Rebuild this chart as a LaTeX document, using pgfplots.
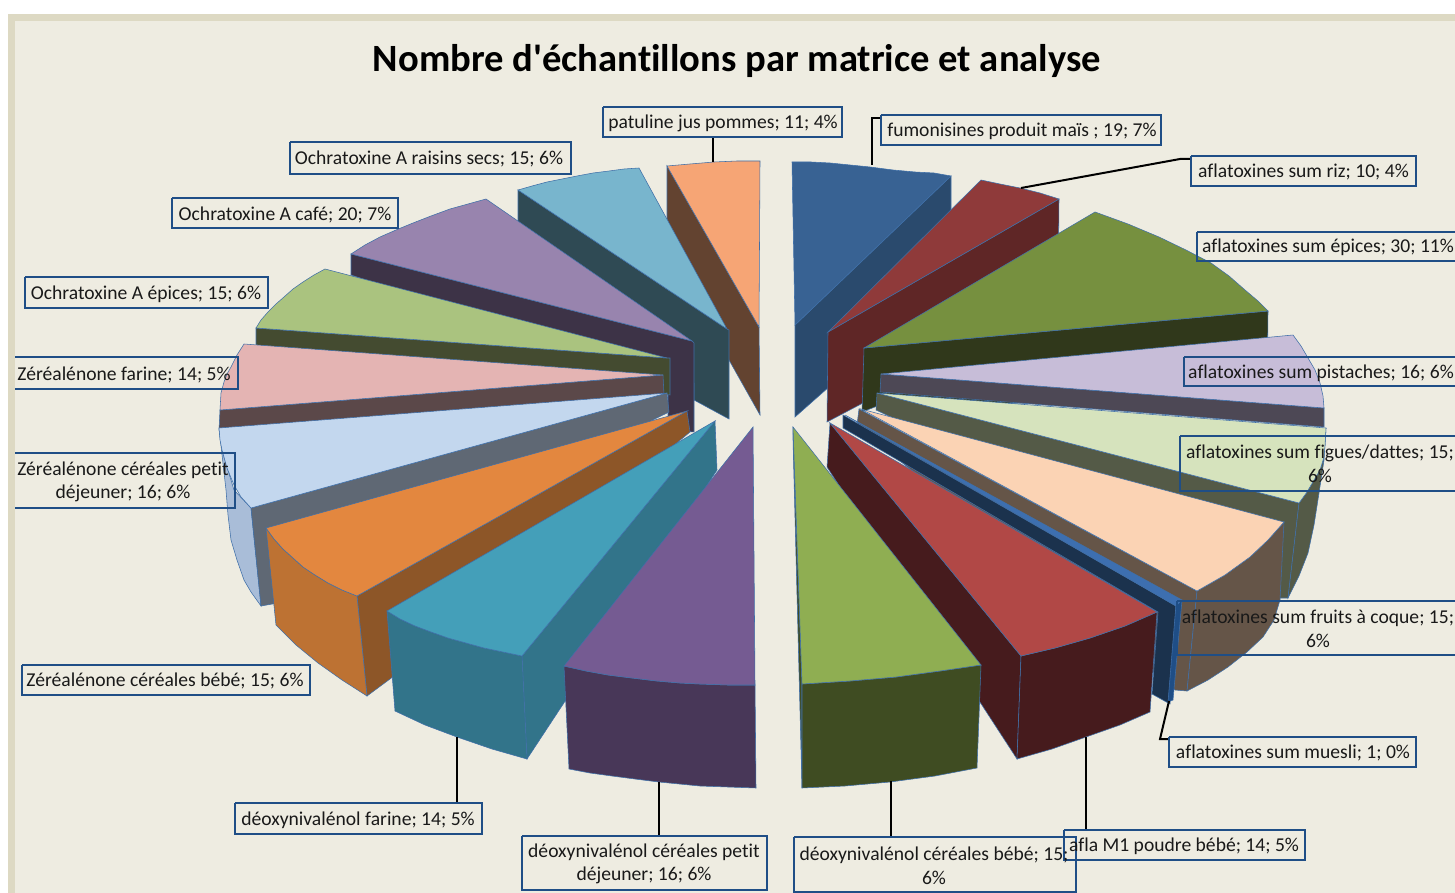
\documentclass[border=0pt]{standalone}
\usepackage{pgfplots}
\pgfplotsset{compat=1.18}
\usepackage{fontspec}
\setmainfont{Carlito}[Ligatures=NoCommon]
\newfontfamily\titlefont{Carlito}[Ligatures=NoCommon]
\definecolor{bgc}{HTML}{EEECE1}
\definecolor{frc}{HTML}{DDD9C3}
\definecolor{bx}{HTML}{1F4E86}
\definecolor{ed}{HTML}{3F6FA8}
% tops / sides
\definecolor{aT}{HTML}{386293}\definecolor{aS}{HTML}{2A4A6D}
\definecolor{bT}{HTML}{8F3A3A}\definecolor{bS}{HTML}{5F2626}
\definecolor{cT}{HTML}{76903F}\definecolor{cS}{HTML}{30381B}
\definecolor{dT}{HTML}{C7BDD8}\definecolor{dS}{HTML}{4D4855}
\definecolor{eT}{HTML}{D6E3BD}\definecolor{eS}{HTML}{545A47}
\definecolor{fT}{HTML}{FBD3B4}\definecolor{fS}{HTML}{655548}
\definecolor{gT}{HTML}{3D6FB0}\definecolor{gS}{HTML}{1B324D}
\definecolor{hT}{HTML}{B14846}\definecolor{hS}{HTML}{461B1D}
\definecolor{iT}{HTML}{8FAE52}\definecolor{iS}{HTML}{3F4C22}
\definecolor{jT}{HTML}{755B92}\definecolor{jS}{HTML}{483758}
\definecolor{kT}{HTML}{449FB9}\definecolor{kS}{HTML}{32748A}
\definecolor{lT}{HTML}{E3873F}\definecolor{lS}{HTML}{8D5628}\definecolor{lF}{HTML}{BD7233}
\definecolor{mT}{HTML}{C3D7EE}\definecolor{mS}{HTML}{5F6874}\definecolor{mF}{HTML}{A9BDD8}
\definecolor{nT}{HTML}{E4B4B3}\definecolor{nS}{HTML}{5B4849}
\definecolor{oT}{HTML}{AAC37F}\definecolor{oS}{HTML}{444B30}
\definecolor{pT}{HTML}{9884AE}\definecolor{pS}{HTML}{3D3347}
\definecolor{qT}{HTML}{78B5CD}\definecolor{qS}{HTML}{2F4A54}
\definecolor{rT}{HTML}{F6A575}\definecolor{rS}{HTML}{634330}
\newcommand{\poly}[2]{\addplot[fill=#1,draw=ed,line width=0.55pt] coordinates {#2} -- cycle;}
\newcommand{\lead}[1]{\addplot[black,line width=2pt] coordinates {#1};}
\newcommand{\boxx}[4]{\addplot[bx,line width=2.5pt] coordinates {(#1,#2) (#3,#2) (#3,#4) (#1,#4) (#1,#2)};}
\newcommand{\openbox}[4]{\addplot[bx,line width=2.5pt] coordinates {(#1,#2) (#3,#2) (#3,#4) (#1,#4)};}
\newcommand{\txt}[3]{\node[font=\fontsize{19.6}{23.5}\selectfont,text=black!90,align=center,inner sep=0pt] at (axis cs:#1,#2) {#3};}
\begin{document}
\begin{tikzpicture}
\begin{axis}[width=1455pt,height=893pt,scale only axis,hide axis,xmin=0,xmax=1455,ymin=0,ymax=893,y dir=reverse,clip=true]
\addplot[fill=white,draw=none] coordinates {(0,0)(1455,0)(1455,893)(0,893)} -- cycle;
\addplot[fill=frc,draw=none] coordinates {(8,14)(1455,14)(1455,893)(8,893)} -- cycle;
\addplot[fill=bgc,draw=none] coordinates {(15,21)(1455,21)(1455,893)(15,893)} -- cycle;
% --- left slices, back to front
\poly{rS}{(667,166)(759,327)(760,415)(667,250)}
\poly{rT}{(667,166)(690,164)(714,162)(737,161)(760,161)(759,327)}
\poly{qS}{(727,329)(518,190)(518,222)(694,383)(694,400)(729,419)(729,330)}
\poly{qT}{(518,190)(532,186)(547,182)(562,179)(577,176)(593,173)(609,171)(624,169)(639,168)(727,329)}
\poly{pS}{(692,341)(351,254)(351,275)(668,380)(668,430)(694,432)(694,343)}
\poly{pT}{(351,254)(365,245)(380,237)(396,230)(413,223)(431,216)(450,209)(468,204)(486,199)(692,341)}
\poly{oS}{(667,358)(256,328)(256,346)(670,395)(670,358)}
\poly{oT}{(256,328)(261,320)(268,312)(276,304)(284,297)(293,289)(303,282)(314,275)(325,269)(667,358)}
\poly{nS}{(663,375)(220,410)(219,430)(664,395)}
\poly{nT}{(244,344)(237,355)(231,367)(227,374)(224,382)(221,393)(220,410)(663,375)}
\poly{mF}{(219,428)(224,457)(234,490)(251,508)(261,606)(251,592)(244,580)(237,560)(231,540)(228,515)(226,490)}
\poly{mS}{(667,393)(251,508)(261,606)(278,603)(669,412)}
\poly{mT}{(219,428)(220,440)(222,450)(227,468)(234,485)(241,497)(251,508)(667,393)}
\poly{lS}{(687,411)(357,596)(367,696)(394,676)(690,432)}
\poly{lF}{(266,528)(274,539)(283,549)(293,558)(303,567)(315,575)(328,583)(342,590)(357,596)(367,696)(342,680)(318,663)(296,645)(276,625)}
\poly{lT}{(266,528)(274,539)(283,549)(293,558)(303,567)(315,575)(328,583)(342,590)(357,596)(687,411)}
\poly{kS}{(715,421)(717,470)(527,759)(522,656)}
\poly{kS}{(387,611)(400,619)(415,626)(431,632)(448,638)(466,643)(484,648)(503,652)(522,656)(527,759)(492,749)(457,737)(425,725)(395,711)}
\poly{kT}{(387,611)(400,619)(415,626)(431,632)(448,638)(466,643)(484,648)(503,652)(522,656)(715,421)}
\poly{jS}{(564,666)(586,671)(608,675)(632,678)(657,681)(680,683)(700,684)(728,685)(755,685)(756,788)(728,787)(700,786)(659,782)(635,779)(612,776)(590,773)(569,769)}
\poly{jT}{(564,666)(586,671)(608,675)(632,678)(657,681)(680,683)(700,684)(728,685)(755,685)(753,427)}
% --- right slices, back to front
\poly{aS}{(951,176)(951,279)(795,417)(795,325)}
\poly{aT}{(792,162)(811,162)(830,163)(850,165)(870,167)(893,170)(915,172)(934,173)(951,176)(795,325)}
\poly{bS}{(1059,199)(1058,300)(827,422)(828,332)}
\poly{bT}{(981,180)(1000,184)(1020,188)(1040,193)(1059,199)(828,332)}
\poly{cS}{(864,348)(1268,311)(1267,400)(880,405)(862,412)}
\poly{cT}{(864,348)(1095,212)(1128,224)(1159,237)(1186,250)(1211,263)(1229,276)(1245,290)(1258,301)(1268,311)}
\poly{dS}{(881,374)(1324,408)(1324,427)(880,392)}
\poly{dT}{(881,374)(1293,335)(1301,346)(1308,358)(1315,370)(1320,383)(1323,396)(1324,408)}
\poly{eS}{(877,393)(1299,503)(1288,598)(1277,598)(876,410)}
\poly{eS}{(1326,428)(1325,445)(1324,457)(1320,470)(1314,480)(1307,492)(1299,503)(1288,598)(1299,576)(1308,553)(1314,525)(1319,493)(1324,460)}
\poly{eT}{(877,393)(1326,428)(1325,445)(1324,457)(1320,470)(1314,480)(1307,492)(1299,503)}
\poly{fS}{(859,409)(1197,591)(1187,691)(1175,690)(857,425)}
\poly{fS}{(1284,522)(1268,540)(1250,557)(1225,575)(1197,591)(1187,691)(1208,680)(1228,667)(1247,652)(1263,637)(1274,620)(1280,600)}
\poly{fT}{(861,409)(1284,522)(1268,540)(1250,557)(1225,575)(1197,591)}
\poly{gS}{(843,415)(1176,606)(1170,704)(1152,694)(1158,612)(843,428)}
\addplot[fill=bx,draw=ed,line width=0.55pt] coordinates {(1176,604)(1182,600)(1173,700)(1168,702)} -- cycle;
\poly{gT}{(845,415)(1182,600)(1176,606)}
\poly{hS}{(830,423)(1021,656)(1017,759)(827,467)}
\poly{hS}{(1157,612)(1125,626)(1090,638)(1055,648)(1021,656)(1017,759)(1052,749)(1086,737)(1120,725)(1150,712)}
\poly{hT}{(830,423)(1157,612)(1125,626)(1090,638)(1055,648)(1021,656)}
\poly{iS}{(793,427)(802,684)(802,788)(793,440)}
\poly{iS}{(802,684)(850,681)(896,677)(940,671)(981,665)(977,768)(935,776)(890,782)(845,786)(802,788)}
\poly{iT}{(793,427)(802,684)(850,681)(896,677)(940,671)(981,665)}
% --- leader lines
\lead{(881,118)(872,118)(872,165)}
\lead{(1191,159)(1180,159)(1021,188)}
\lead{(713,137)(713,162)}
\lead{(1169,701)(1160,739)(1169,739)}
\lead{(1086,737)(1086,830)}
\lead{(891,781)(891,837)}
\lead{(659,782)(659,836)}
\lead{(457,737)(457,803)}
% --- label boxes
\boxx{603}{107}{842}{137}
\boxx{881}{115}{1161}{145}
\boxx{1191}{156}{1416}{186}
\boxx{1197}{232}{1470}{261}
\boxx{1184}{357}{1470}{386}
\boxx{1180}{436}{1470}{491}
\boxx{1177}{601}{1470}{655}
\boxx{1169}{737}{1416}{767}
\boxx{1064}{830}{1305}{860}
\boxx{794}{837}{1076}{892}
\boxx{522}{836}{767}{890}
\boxx{235}{803}{482}{834}
\boxx{22}{665}{310}{695}
\openbox{15}{453}{235}{508}
\openbox{15}{357}{238}{389}
\boxx{25}{277}{268}{308}
\boxx{172}{198}{398}{228}
\boxx{290}{142}{571}{174}
% --- texts
\node[font=\fontsize{38.6}{42}\titlefont\bfseries,inner sep=0pt] at (axis cs:737,61) {Nombre d'échantillons par matrice et analyse};
\txt{723}{123}{patuline jus pommes; 11; 4\%}
\txt{1022}{131}{fumonisines produit maïs ; 19; 7\%}
\txt{1303.5}{172}{aflatoxines sum riz; 10; 4\%}
\txt{1328}{247}{aflatoxines sum épices; 30; 11\%}
\txt{1321}{373}{aflatoxines sum pistaches; 16; 6\%}
\txt{1320}{464}{aflatoxines sum figues/dattes; 15;\\6\%}
\txt{1318}{629}{aflatoxines sum fruits à coque; 15;\\6\%}
\txt{1293}{753}{aflatoxines sum muesli; 1; 0\%}
\txt{1184}{846}{afla M1 poudre bébé; 14; 5\%}
\txt{934}{866}{déoxynivalénol céréales bébé; 15;\\6\%}
\txt{644}{864}{déoxynivalénol céréales petit\\déjeuner; 16; 6\%}
\txt{358}{820}{déoxynivalénol farine; 14; 5\%}
\txt{165}{681}{Zéréalénone céréales bébé; 15; 6\%}
\txt{123}{482}{Zéréalénone céréales petit\\déjeuner; 16; 6\%}
\txt{124}{375}{Zéréalénone farine; 14; 5\%}
\txt{146}{294}{Ochratoxine A épices; 15; 6\%}
\txt{285}{215}{Ochratoxine A café; 20; 7\%}
\txt{429}{159}{Ochratoxine A raisins secs; 15; 6\%}
\end{axis}
\pgfresetboundingbox
\path (0,0) rectangle (1455pt,893pt);
\end{tikzpicture}
\end{document}
